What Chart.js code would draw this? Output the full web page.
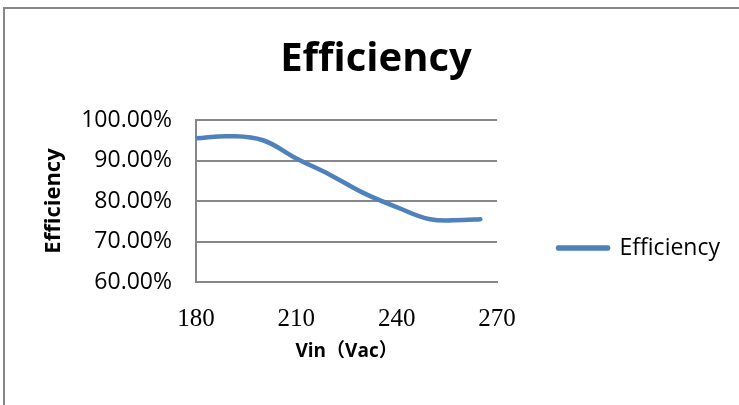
<!DOCTYPE html>
<html>
<head>
<meta charset="utf-8">
<script src="https://cdn.jsdelivr.net/npm/chart.js@4/dist/chart.umd.min.js"></script>
<style>
  html, body { margin: 0; padding: 0; background: #fff; }
</style>
</head>
<body>
<canvas id="grafico" width="739" height="405"></canvas>
<script>
// tensao de entrada (Vac) e eficiencia (%)
var vin = [180, 190, 200, 210, 220, 230, 240, 250, 260, 265];
var eficiencia = [95.5, 96.0, 95.0, 90.5, 86.5, 82.0, 78.5, 75.5, 75.3, 75.5];
var yTicks = [60, 70, 80, 90, 100];
var xTicks = [180, 210, 240, 270];

var azul = '#4F81BD';
var cinza = '#878787';

var pontos = vin.map(function (v, i) { return { x: v, y: eficiencia[i] }; });

// moldura cinza do grafico (estilo Excel)
var moldura = {
    id: 'moldura',
    beforeDraw: function (chart) {
        var ctx = chart.ctx;
        ctx.save();
        ctx.strokeStyle = cinza;
        ctx.lineWidth = 2;
        ctx.strokeRect(4, 8, 900, 600);
        ctx.restore();
    }
};

var ctx = document.getElementById('grafico').getContext('2d');
window.myLine = new Chart(ctx, {
    type: 'scatter',
    data: {
        datasets: [{
            label: 'Efficiency',
            data: pontos,
            showLine: true,
            borderColor: azul,
            backgroundColor: azul,
            borderWidth: 4.5,
            borderCapStyle: 'round',
            borderJoinStyle: 'round',
            pointRadius: 0,
            pointHoverRadius: 0,
            tension: 0.4,
            fill: false
        }]
    },
    options: {
        responsive: false,
        animation: false,
        events: [],
        layout: { padding: { left: 22, right: 9, top: 0, bottom: 0 } },
        plugins: {
            title: {
                display: true,
                text: 'Efficiency',
                color: '#000',
                font: { family: "'Open Sans'", size: 40, weight: 'bold' },
                padding: { top: 36, bottom: 36 }
            },
            legend: {
                display: true,
                position: 'right',
                align: 'center',
                maxWidth: 400,
                // titulo vazio so para empurrar a legenda para baixo
                title: { display: true, text: ' ', font: { size: 10 }, padding: { top: 79, bottom: 0 } },
                labels: {
                    color: '#000',
                    font: { family: "'Open Sans'", size: 23 },
                    boxWidth: 50,
                    boxHeight: 1,
                    padding: 61
                }
            },
            tooltip: { enabled: false }
        },
        scales: {
            x: {
                type: 'linear',
                min: 180,
                max: 270,
                afterBuildTicks: function (axis) {
                    axis.ticks = xTicks.map(function (v) { return { value: v }; });
                },
                afterFit: function (axis) { axis.height = 123; },
                grid: { display: false, drawTicks: false },
                border: { display: true, color: cinza, width: 2 },
                ticks: {
                    color: '#000',
                    font: { family: "'Liberation Serif'", size: 25 },
                    padding: 22,
                    maxRotation: 0
                },
                title: {
                    display: true,
                    text: 'Vin（Vac）',
                    color: '#000',
                    font: { family: "'Open Sans', 'Noto Sans CJK SC'", size: 19, weight: 'bold' },
                    padding: { top: 0, bottom: 42 }
                }
            },
            y: {
                min: 60,
                max: 100,
                afterBuildTicks: function (axis) {
                    axis.ticks = yTicks.map(function (v) { return { value: v }; });
                },
                afterFit: function (axis) { axis.width = 174; },
                grid: { color: cinza, lineWidth: 2, drawTicks: false },
                border: { display: true, color: cinza, width: 2 },
                ticks: {
                    color: '#000',
                    font: { family: "'Open Sans'", size: 23 },
                    padding: 24,
                    callback: function (v) { return v.toFixed(2) + '%'; }
                },
                title: {
                    display: true,
                    text: 'Efficiency',
                    color: '#000',
                    font: { family: "'Open Sans'", size: 22, weight: 'bold' },
                    padding: { top: 19, bottom: 0 }
                }
            }
        }
    },
    plugins: [moldura]
});
</script>
</body>
</html>
